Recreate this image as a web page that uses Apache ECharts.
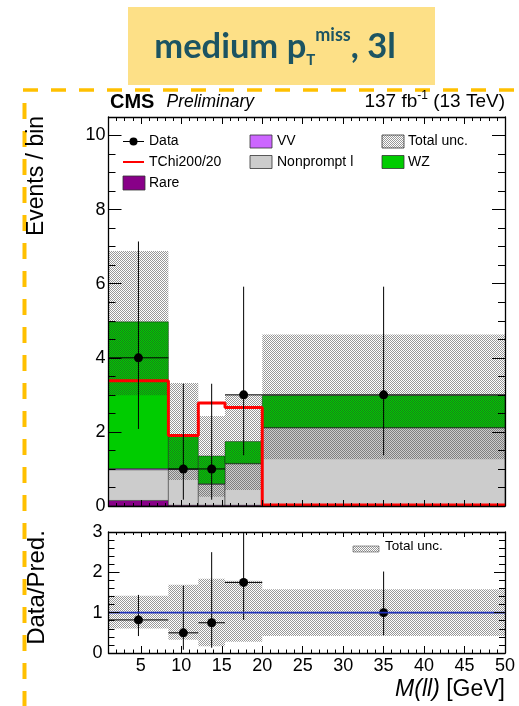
<!DOCTYPE html>
<html><head><meta charset="utf-8">
<script src="https://cdn.jsdelivr.net/npm/echarts@6/dist/echarts.min.js"></script>
<style>html,body{margin:0;padding:0;background:#fff}#c{width:519px;height:706px}</style>
</head><body><div id="c"></div>
<script>
// ---------- data ----------
const binEdges   = [1, 8.4, 12.1, 15.4, 20, 50];
const rare       = [0.15, 0.02, 0.02, 0.02, 0.02];
const nonprompt  = [0.83, 0.97, 0.57, 1.12, 2.09];
const vv         = [0.03, 0.01, 0.01, 0.01, 0.01];
const wz         = [3.96, 0.88, 0.75, 0.59, 0.86];
const uncLow     = [2.99, 0.70, 0.25, 0.43, 1.26];
const uncHigh    = [6.88, 3.32, 2.43, 3.00, 4.63];
const signal     = [3.38, 1.90, 2.78, 2.66, 0.03];
const dataVal    = [4, 1, 1, 3, 3];
const dataLow    = [2.08, 0.17, 0.17, 1.37, 1.37];
const dataHigh   = [7.14, 3.30, 3.30, 5.92, 5.92];
const ratioVal   = [0.82, 0.50, 0.75, 1.75, 1.00];
const ratioLow   = [0.42, 0.08, 0.13, 0.82, 0.44];
const ratioHigh  = [1.44, 1.67, 2.50, 3.40, 2.02];
const ratioUncLow  = [0.61, 0.33, 0.17, 0.28, 0.42];
const ratioUncHigh = [1.42, 1.69, 1.84, 1.79, 1.58];
const ratioRef   = 1;
const xTickLabels     = [5, 10, 15, 20, 25, 30, 35, 40, 45, 50];
const mainYTickLabels = [0, 2, 4, 6, 8, 10];
const ratioYTickLabels = [0, 1, 2, 3];

// ---------- helpers ----------
const FONT = "'Liberation Sans', Arial, Helvetica, sans-serif";
const nBins = binEdges.length - 1;
const hc = document.createElement('canvas');
hc.width = 2; hc.height = 2;
const hx = hc.getContext('2d');
hx.fillStyle = 'rgba(50,50,50,0.5)';
hx.fillRect(0, 0, 1, 1); hx.fillRect(1, 1, 1, 1);
const hatch = { image: hc, repeat: 'repeat' };

function range(a, b, step) { const r = []; for (let v = a; v <= b + 1e-9; v += step) r.push(Math.round(v * 1000) / 1000); return r; }
function minus(all, major) { return all.filter(v => !major.some(m => Math.abs(m - v) < 1e-6)); }
const xMinor = minus(range(2, 49, 1), xTickLabels);
const mainYMinor = minus(range(0.5, 10.5, 0.5), mainYTickLabels);
const ratioYMinor = minus(range(0.2, 2.8, 0.2), ratioYTickLabels);

function xAx(grid, pos, vals, len, labels, lineOn) {
  return {
    type: 'value', gridIndex: grid, position: pos, min: 1, max: 50, z: 10,
    splitLine: { show: false },
    axisLine: { show: !!lineOn, onZero: false, lineStyle: { color: '#000', width: 1.3 } },
    axisTick: { show: true, inside: true, length: len, customValues: vals, lineStyle: { color: '#000', width: 1 } },
    axisLabel: labels ? { show: true, customValues: vals, margin: 4, color: '#000', fontSize: 18, fontFamily: FONT } : { show: false }
  };
}
function yAx(grid, pos, min, max, vals, len, labels, lineOn, margin) {
  return {
    type: 'value', gridIndex: grid, position: pos, min: min, max: max, z: 10,
    splitLine: { show: false },
    axisLine: { show: !!lineOn, onZero: false, lineStyle: { color: '#000', width: 1.3 } },
    axisTick: { show: true, inside: true, length: len, customValues: vals, lineStyle: { color: '#000', width: 1 } },
    axisLabel: labels ? { show: true, customValues: vals, margin: margin, color: '#000', fontSize: 18, fontFamily: FONT } : { show: false }
  };
}

function boxRenderer(fill, stroke) {
  return function (params, api) {
    const p0 = api.coord([api.value(0), api.value(2)]);
    const p1 = api.coord([api.value(1), api.value(3)]);
    return { type: 'rect', shape: { x: p0[0], y: p1[1], width: p1[0] - p0[0], height: p0[1] - p1[1] },
             style: { fill: fill, stroke: stroke || null, lineWidth: stroke ? 0.8 : 0 } };
  };
}
function pointRenderer(r) {
  return function (params, api) {
    const c = api.coord([api.value(0), api.value(1)]);
    const lo = api.coord([api.value(0), api.value(2)]);
    const hi = api.coord([api.value(0), api.value(3)]);
    const l = api.coord([api.value(4), api.value(1)]);
    const rr = api.coord([api.value(5), api.value(1)]);
    return { type: 'group', children: [
      { type: 'line', shape: { x1: c[0], y1: lo[1], x2: c[0], y2: hi[1] }, style: { stroke: '#000', lineWidth: 1 } },
      { type: 'line', shape: { x1: l[0], y1: c[1], x2: rr[0], y2: c[1] }, style: { stroke: '#000', lineWidth: 1 } },
      { type: 'circle', shape: { cx: c[0], cy: c[1], r: r }, style: { fill: '#000' } }
    ] };
  };
}

// stacked backgrounds
const stackDefs = [
  { name: 'Rare', vals: rare, color: '#880088' },
  { name: 'Nonprompt l', vals: nonprompt, color: '#cccccc' },
  { name: 'VV', vals: vv, color: '#cc66ff' },
  { name: 'WZ', vals: wz, color: '#00cc00' }
];
const cum = new Array(nBins).fill(0);
const series = [];
stackDefs.forEach(d => {
  const data = [];
  for (let i = 0; i < nBins; i++) { data.push([binEdges[i], binEdges[i + 1], cum[i], cum[i] + d.vals[i]]); cum[i] += d.vals[i]; }
  series.push({ type: 'custom', name: d.name, xAxisIndex: 0, yAxisIndex: 0, clip: true, z: 2,
    encode: { x: [0, 1], y: [2, 3] }, data: data, renderItem: boxRenderer(d.color, 'rgba(0,0,0,0.5)') });
});
// total uncertainty band (main)
series.push({ type: 'custom', name: 'Total unc.', xAxisIndex: 0, yAxisIndex: 0, clip: true, z: 3,
  encode: { x: [0, 1], y: [2, 3] },
  data: uncLow.map((v, i) => [binEdges[i], binEdges[i + 1], v, uncHigh[i]]), renderItem: boxRenderer(hatch) });
// signal
series.push({ type: 'line', name: 'TChi200/20', xAxisIndex: 0, yAxisIndex: 0, step: 'end', showSymbol: false, symbol: 'none', z: 4,
  lineStyle: { color: '#ff0000', width: 3 },
  data: binEdges.map((e, i) => [e, signal[Math.min(i, nBins - 1)]]) });
// data
series.push({ type: 'custom', name: 'Data', xAxisIndex: 0, yAxisIndex: 0, clip: true, z: 5,
  encode: { x: 0, y: 1 },
  data: dataVal.map((v, i) => [(binEdges[i] + binEdges[i + 1]) / 2, v, dataLow[i], dataHigh[i], binEdges[i], binEdges[i + 1]]),
  renderItem: pointRenderer(4.5) });
// ratio band
series.push({ type: 'custom', name: 'Total unc. ratio', xAxisIndex: 4, yAxisIndex: 4, clip: true, z: 3,
  encode: { x: [0, 1], y: [2, 3] },
  data: ratioUncLow.map((v, i) => [binEdges[i], binEdges[i + 1], v, ratioUncHigh[i]]), renderItem: boxRenderer(hatch) });
// ratio data
series.push({ type: 'custom', name: 'Data ratio', xAxisIndex: 4, yAxisIndex: 4, clip: true, z: 4,
  encode: { x: 0, y: 1 },
  data: ratioVal.map((v, i) => [(binEdges[i] + binEdges[i + 1]) / 2, v, ratioLow[i], ratioHigh[i], binEdges[i], binEdges[i + 1]]),
  renderItem: pointRenderer(4.5) });
// ratio reference line (drawn above the data bars, like the reference)
series.push({ type: 'line', name: 'ref', xAxisIndex: 4, yAxisIndex: 4, showSymbol: false, symbol: 'none', z: 5,
  lineStyle: { color: '#2233bb', width: 1.6 },
  data: [[binEdges[0], ratioRef], [binEdges[nBins], ratioRef]] });

// ---------- graphics (title, header, legend, axis titles) ----------
const legText = (x, y, t, fs) => ({ type: 'text', x: x, y: y, z: 20, style: { text: t, fill: '#000', font: (fs || 14) + 'px ' + FONT, align: 'left', verticalAlign: 'middle' } });
const legBox = (x, y, w, h, fill) => ({ type: 'rect', z: 20, shape: { x: x, y: y, width: w, height: h }, style: { fill: fill, stroke: '#333', lineWidth: 0.8 } });

const graphics = [
  { type: 'rect', shape: { x: 128, y: 7, width: 307, height: 78 }, style: { fill: '#fde087' } },
  { type: 'text', x: 275, y: 47, style: {
      text: '{m|medium p}{sub|T}{sup|miss}{m|, 3l}', align: 'center', verticalAlign: 'middle',
      rich: {
        m: { fontSize: 34.5, fontWeight: 'bold', fontFamily: 'Lato, sans-serif', fill: '#1c5462', lineHeight: 42 },
        sub: { fontSize: 15, fontWeight: 'bold', fontFamily: 'Lato, sans-serif', fill: '#1c5462', lineHeight: 15, verticalAlign: 'bottom' },
        sup: { fontSize: 18, fontWeight: 'bold', fontFamily: 'Lato, sans-serif', fill: '#1c5462', lineHeight: 28, verticalAlign: 'top' }
      } } },
  { type: 'line', shape: { x1: 23, y1: 90, x2: 519, y2: 90 }, style: { stroke: '#ffc000', lineWidth: 3.5, lineDash: [15, 13] } },
  { type: 'line', shape: { x1: 24.5, y1: 103, x2: 24.5, y2: 706 }, style: { stroke: '#ffc000', lineWidth: 4, lineDash: [16, 12] } },
  { type: 'text', x: 110, y: 102, style: { text: 'CMS', fill: '#000', font: 'bold 20px ' + FONT, align: 'left', verticalAlign: 'middle' } },
  { type: 'text', x: 166.5, y: 102.5, style: { text: 'Preliminary', fill: '#000', font: 'italic 17.5px ' + FONT, align: 'left', verticalAlign: 'middle' } },
  { type: 'text', x: 505, y: 102, style: {
      text: '{a|137 fb}{s|-1}{a| (13 TeV)}', align: 'right', verticalAlign: 'middle',
      rich: { a: { fontSize: 19, fontFamily: FONT, fill: '#000', lineHeight: 24 },
              s: { fontSize: 12, fontFamily: FONT, fill: '#000', lineHeight: 12, verticalAlign: 'top' } } } },
  // main legend
  { type: 'line', z: 20, shape: { x1: 123, y1: 141.5, x2: 144, y2: 141.5 }, style: { stroke: '#000', lineWidth: 1 } },
  { type: 'circle', z: 20, shape: { cx: 133.5, cy: 141.5, r: 4 }, style: { fill: '#000' } },
  legText(149, 141.5, 'Data'),
  { type: 'line', z: 20, shape: { x1: 123, y1: 162, x2: 144, y2: 162 }, style: { stroke: '#ff0000', lineWidth: 2 } },
  legText(149, 162, 'TChi200/20'),
  legBox(123, 176, 22, 14, '#880088'), legText(149, 183, 'Rare'),
  legBox(250, 135, 22, 13, '#cc66ff'), legText(277, 141.5, 'VV'),
  legBox(250, 155.5, 22, 13, '#cccccc'), legText(277, 162, 'Nonprompt l'),
  legBox(382, 135, 22, 13, hatch), legText(408, 141.5, 'Total unc.'),
  legBox(382, 155.5, 22, 13, '#00cc00'), legText(408, 162, 'WZ'),
  // ratio legend
  { type: 'rect', z: 20, shape: { x: 353, y: 546, width: 26, height: 6 }, style: { fill: hatch, stroke: '#555', lineWidth: 0.6 } },
  legText(385, 546, 'Total unc.', 13.5),
  // axis titles
  { type: 'text', x: 37, y: 176, rotation: Math.PI / 2, style: { text: 'Events / bin', fill: '#000', font: '23px ' + FONT, align: 'center', verticalAlign: 'middle' } },
  { type: 'text', x: 37, y: 587.5, rotation: Math.PI / 2, style: { text: 'Data/Pred.', fill: '#000', font: '24px ' + FONT, align: 'center', verticalAlign: 'middle' } },
  { type: 'text', x: 505, y: 690, style: {
      text: '{i|M(ll)}{n| [GeV]}', align: 'right', verticalAlign: 'middle',
      rich: { i: { fontSize: 23, fontStyle: 'italic', fontFamily: FONT, fill: '#000' },
              n: { fontSize: 23, fontFamily: FONT, fill: '#000' } } } }
];

const option = {
  animation: false,
  backgroundColor: '#fff',
  grid: [
    { left: 108.5, top: 117, width: 396.5, height: 389, show: false },
    { left: 108.5, top: 532, width: 396.5, height: 121, show: false }
  ],
  xAxis: [
    xAx(0, 'bottom', xTickLabels, 6, false, true),
    xAx(0, 'bottom', xMinor, 3, false, false),
    xAx(0, 'top', xTickLabels, 7, false, true),
    xAx(0, 'top', xMinor, 4, false, false),
    xAx(1, 'bottom', xTickLabels, 7, true, true),
    xAx(1, 'bottom', xMinor, 3.5, false, false),
    xAx(1, 'top', xTickLabels, 5, false, true),
    xAx(1, 'top', xMinor, 3, false, false)
  ],
  yAxis: [
    yAx(0, 'left', 0, 10.5, mainYTickLabels, 13, true, true, 3),
    yAx(0, 'left', 0, 10.5, mainYMinor, 7, false, false),
    yAx(0, 'right', 0, 10.5, mainYTickLabels, 13, false, true),
    yAx(0, 'right', 0, 10.5, mainYMinor, 7, false, false),
    yAx(1, 'left', 0, 3, ratioYTickLabels, 11, true, true, 6),
    yAx(1, 'left', 0, 3, ratioYMinor, 6, false, false),
    yAx(1, 'right', 0, 3, ratioYTickLabels, 11, false, true),
    yAx(1, 'right', 0, 3, ratioYMinor, 6, false, false)
  ],
  series: series,
  graphic: graphics
};
const chart = echarts.init(document.getElementById('c'), null, { renderer: 'canvas', width: 519, height: 706 });
chart.setOption(option);
</script>
</body></html>
